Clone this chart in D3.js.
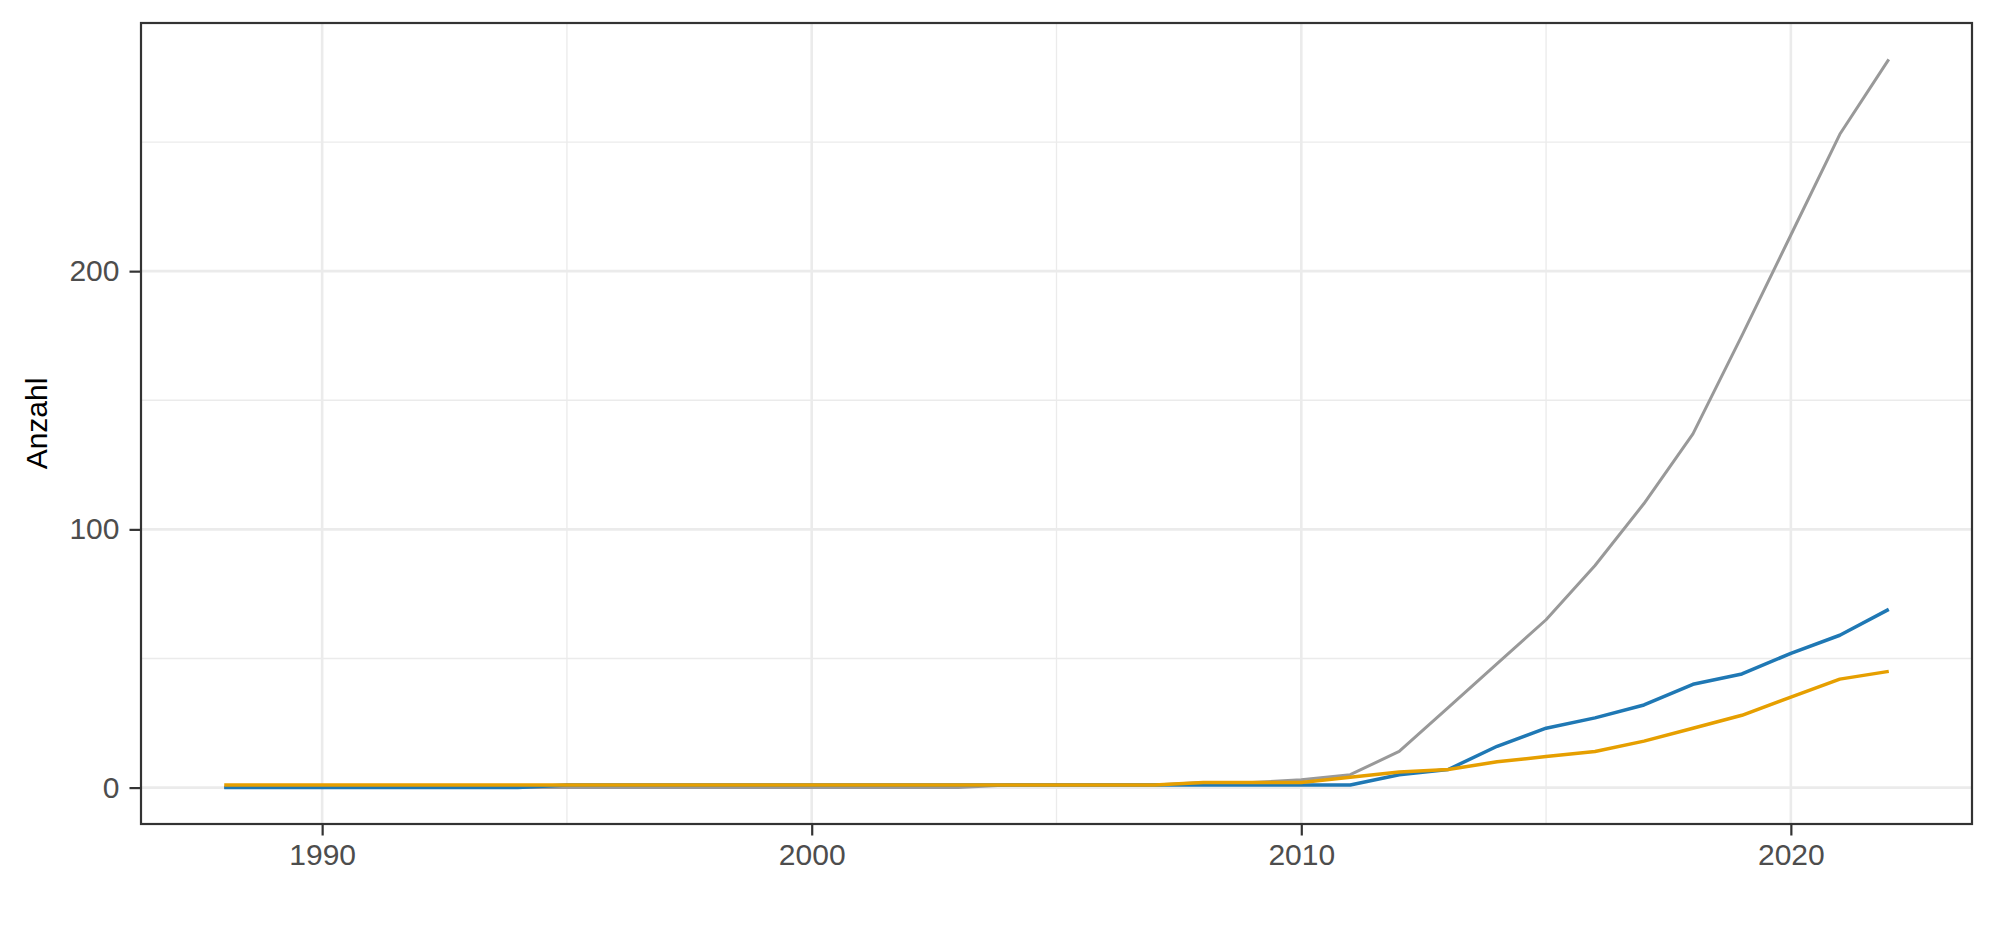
<!DOCTYPE html>
<html>
<head>
<meta charset="utf-8">
<script src="https://cdn.jsdelivr.net/npm/d3@7"></script>
<style>
  body { margin: 0; background: #fff; }
  svg { font-family: "Liberation Sans", Arial, sans-serif; }
</style>
</head>
<body>
<svg id="chart"></svg>
<script>
// data
const years = d3.range(1988, 2023);
const grau =   [0,0,0,0,0,0,0,0,0,0,0,0,0,0,0,0,1,1,1,1,2,2,3,5,14,31,48,65,86,110,137,175,214,253,282];
const blau =   [0,0,0,0,0,0,0,1,1,1,1,1,1,1,1,1,1,1,1,1,1,1,1,1,5,7,16,23,27,32,40,44,52,59,69];
const orange = [1,1,1,1,1,1,1,1,1,1,1,1,1,1,1,1,1,1,1,1,2,2,2,4,6,7,10,12,14,18,23,28,35,42,45];
const xTicks = [1990, 2000, 2010, 2020];
const yTicks = [0, 100, 200];

const series = [
  { name: 'grau', values: grau, color: '#999999', lw: 3 },
  { name: 'blau', values: blau, color: '#1F78B4', lw: 3.5 },
  { name: 'orange', values: orange, color: '#E69F00', lw: 3.5 },
];

// constants
const width = 1996;
const height = 944;
const margin = { left: 141, right: 24, top: 23, bottom: 120 };
const visWidth = width - margin.left - margin.right;
const visHeight = height - margin.top - margin.bottom;

const svg = d3.select('#chart')
  .attr('width', width)
  .attr('height', height);

const chart = svg.append('g')
  .attr('transform', `translate(${margin.left},${margin.top})`);

// ggplot style 5% expansion
const xExt = d3.extent(years);
const xPad = (xExt[1] - xExt[0]) * 0.05;
const x = d3.scaleLinear()
  .domain([xExt[0] - xPad, xExt[1] + xPad])
  .range([0, visWidth]);

const yMax = d3.max(series, s => d3.max(s.values));
const yPad = yMax * 0.05;
const y = d3.scaleLinear()
  .domain([-yPad, yMax + yPad])
  .range([visHeight, 0]);

// grid
const xMinor = [1995, 2005, 2015];
const yMinor = [50, 150, 250];

chart.selectAll('.gx-minor').data(xMinor).enter().append('line')
  .attr('x1', d => x(d)).attr('x2', d => x(d))
  .attr('y1', 0).attr('y2', visHeight)
  .attr('stroke', '#EBEBEB').attr('stroke-width', 1.3);
chart.selectAll('.gy-minor').data(yMinor).enter().append('line')
  .attr('y1', d => y(d)).attr('y2', d => y(d))
  .attr('x1', 0).attr('x2', visWidth)
  .attr('stroke', '#EBEBEB').attr('stroke-width', 1.3);
chart.selectAll('.gx').data(xTicks).enter().append('line')
  .attr('x1', d => x(d)).attr('x2', d => x(d))
  .attr('y1', 0).attr('y2', visHeight)
  .attr('stroke', '#EBEBEB').attr('stroke-width', 2.6);
chart.selectAll('.gy').data(yTicks).enter().append('line')
  .attr('y1', d => y(d)).attr('y2', d => y(d))
  .attr('x1', 0).attr('x2', visWidth)
  .attr('stroke', '#EBEBEB').attr('stroke-width', 2.6);

// lines
const line = d3.line()
  .x((d, i) => x(years[i]))
  .y(d => y(d));

chart.selectAll('.series').data(series).enter().append('path')
  .attr('d', d => line(d.values))
  .attr('fill', 'none')
  .attr('stroke', d => d.color)
  .attr('stroke-width', d => d.lw)
  .attr('stroke-linejoin', 'round');

// panel border
chart.append('rect')
  .attr('width', visWidth).attr('height', visHeight)
  .attr('fill', 'none').attr('stroke', '#333333').attr('stroke-width', 2.2);

// axes
const xAxis = chart.append('g')
  .attr('transform', `translate(0,${visHeight})`)
  .call(d3.axisBottom(x).tickValues(xTicks).tickFormat(d3.format('d')).tickSize(11.5).tickPadding(8));
const yAxis = chart.append('g')
  .call(d3.axisLeft(y).tickValues(yTicks).tickSize(11.5).tickPadding(10));

[xAxis, yAxis].forEach(a => {
  a.select('.domain').remove();
  a.selectAll('line').attr('stroke', '#333333').attr('stroke-width', 2.2);
  a.selectAll('text')
    .attr('fill', '#4D4D4D')
    .style('font-size', '30px')
    .style('font-family', '"Liberation Sans", Arial, sans-serif');
});

// y title
svg.append('text')
  .attr('transform', `translate(47,${margin.top + visHeight / 2}) rotate(-90)`)
  .attr('text-anchor', 'middle')
  .attr('fill', '#000')
  .style('font-size', '30px')
  .text('Anzahl');
</script>
</body>
</html>
